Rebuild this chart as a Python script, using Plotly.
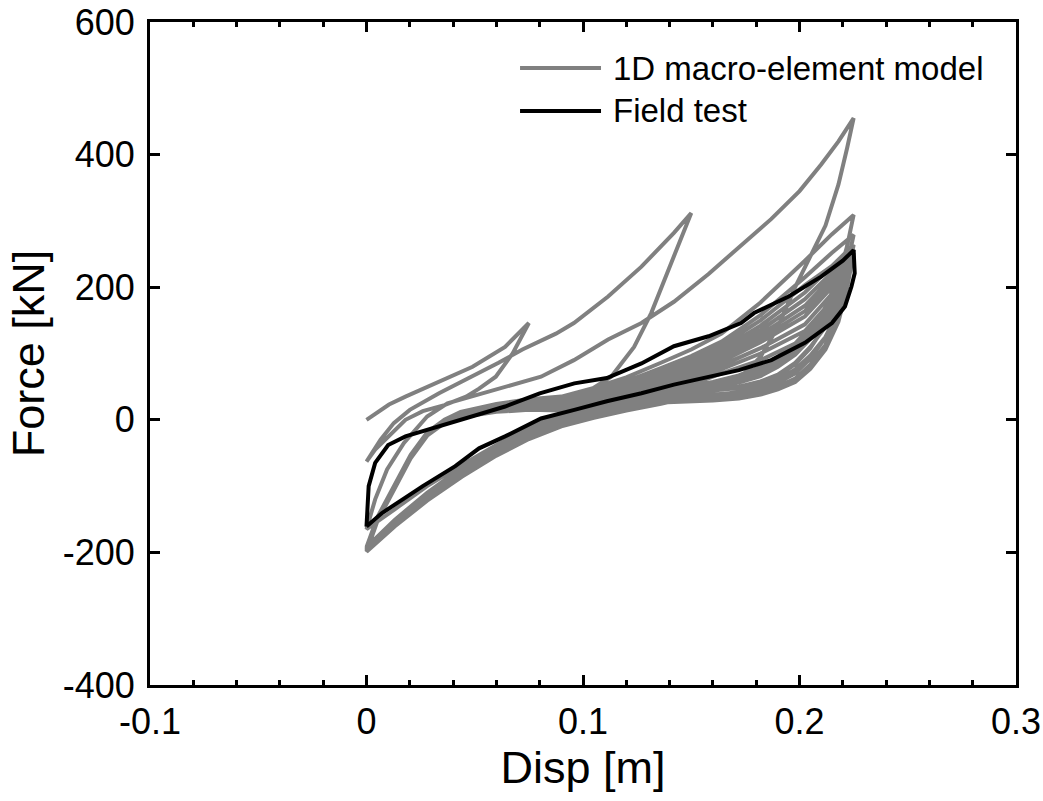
import plotly.graph_objects as go

# ---------------- data ----------------
# 1D macro-element model: successive loading / unloading branches
c1_load_d = [0.0, 0.0104, 0.018, 0.0335, 0.049, 0.064, 0.075]
c1_load_f = [0, 23, 35, 58, 80, 110, 146]
c1_unload_d = [0.075, 0.0675, 0.0597, 0.052, 0.046, 0.036, 0.026, 0.018, 0.0103, 0.004, 0.0]
c1_unload_f = [146, 100, 65, 47, 35, 22, 13, 0, -25, -45, -63]

c2_load_d = [0.0, 0.0065, 0.0126, 0.02, 0.0335, 0.049, 0.061, 0.072, 0.0806, 0.0875, 0.0958, 0.1116, 0.127, 0.142, 0.15]
c2_load_f = [-63, -30, -5, 15, 40, 65, 86, 106, 120, 130, 146, 186, 231, 282, 312]
c2_unload_d = [0.15, 0.1315, 0.1236, 0.113, 0.10, 0.09, 0.075, 0.06, 0.044, 0.028, 0.013, 0.0]
c2_unload_f = [312, 161, 110, 65, 38, 10, -12, -38, -68, -100, -135, -165]

c3_load_d = [0.0, 0.004, 0.0095, 0.0173, 0.028, 0.0374, 0.048, 0.065, 0.0806, 0.0958, 0.1116, 0.127, 0.142, 0.158, 0.173, 0.187, 0.2, 0.21, 0.218, 0.225]
c3_load_f = [-165, -120, -75, -35, 5, 25, 35, 50, 65, 90, 121, 146, 178, 220, 262, 303, 345, 385, 420, 455]

# later cycles share displacement stations
unload_d = [0.225, 0.222, 0.218, 0.212, 0.205, 0.198, 0.19, 0.182, 0.172, 0.16, 0.148, 0.136, 0.12, 0.105, 0.09, 0.075, 0.06, 0.044, 0.028, 0.013, 0.0]
reload_d = [0.0, 0.005, 0.0126, 0.0204, 0.028, 0.036, 0.0435, 0.06, 0.075, 0.09, 0.105, 0.12, 0.136, 0.15, 0.164, 0.182, 0.2025, 0.215, 0.225]

c3_unload_f = [455, 410, 355, 293, 245, 200, 140, 95, 62, 45, 33, 24, 14, 3, -10, -29, -54, -86, -122, -161, -197]
c4_load_f = [-197, -150, -104, -55, -20, 0, 12, 24, 31, 35, 48, 64, 86, 106, 130, 177, 240, 280, 309]
c4_unload_f = [309, 262, 215, 170, 132, 104, 82, 68, 58, 52, 48, 45, 36, 22, 8, -12, -38, -72, -110, -151, -192]
c5_load_f = [-192, -147, -101, -53, -19, 0, 11, 22, 28, 31, 43, 58, 78, 96, 118, 158, 215, 252, 279]
c5_unload_f = [279, 232, 186, 143, 108, 84, 66, 55, 48, 44, 42, 40, 31, 18, 4, -16, -42, -75, -113, -154, -194]
c6_load_f = [-194, -148, -102, -54, -20, -1, 9, 19, 24, 26, 38, 52, 70, 86, 106, 142, 192, 232, 264]
c6_unload_f = [264, 214, 166, 124, 92, 70, 56, 47, 41, 38, 36, 35, 26, 14, 1, -19, -45, -78, -116, -157, -196]
c7_load_f = [-196, -150, -103, -55, -21, -2, 7, 16, 20, 21, 32, 46, 62, 77, 96, 128, 172, 215, 257]
c7_unload_f = [257, 204, 154, 113, 83, 62, 50, 42, 36, 33, 32, 30, 22, 10, -2, -22, -48, -81, -119, -160, -198]
c8_load_f = [-198, -152, -105, -57, -23, -4, 5, 13, 16, 16, 27, 40, 55, 70, 88, 117, 156, 200, 252]
c8_unload_f = [252, 199, 148, 106, 77, 57, 46, 38, 32, 29, 28, 26, 18, 7, -5, -25, -51, -84, -121, -161, -199]
c9_load_f = [-199, -153, -106, -58, -24, -5, 4, 12, 15, 14, 23, 35, 50, 64, 82, 108, 144, 190, 250]
c9_unload_f = [250, 210, 165, 125, 97, 76, 60, 50, 42, 37, 34, 31, 22, 10, -3, -23, -49, -82, -119, -159, -197]
c10_load_f = [-197, -151, -104, -56, -22, -3, 6, 14, 17, 16, 20, 32, 46, 58, 77, 100, 134, 180, 249]
c10_unload_f = [249, 215, 175, 140, 110, 86, 68, 58, 50, 44, 40, 37, 28, 15, 1, -20, -46, -79, -117, -158, -196]
c11_load_f = [-196, -150, -103, -55, -21, -2, 8, 18, 23, 25, 37, 54, 74, 91, 112, 150, 203, 232, 248]
c11_unload_f = [248, 222, 190, 160, 132, 108, 88, 75, 63, 54, 48, 43, 33, 19, 5, -16, -43, -77, -115, -156, -195]
c12_load_f = [-195, -149, -102, -55, -21, -2, 8, 17, 22, 24, 35, 50, 66, 82, 101, 135, 182, 222, 248]
c12_unload_f = [248, 218, 182, 150, 122, 98, 80, 66, 56, 48, 43, 39, 30, 17, 3, -18, -44, -78, -116, -157, -196]
c13_load_f = [-196, -150, -103, -56, -22, -3, 7, 15, 19, 20, 31, 44, 58, 74, 92, 122, 164, 208, 247]
c13_unload_f = [247, 220, 186, 155, 127, 103, 84, 70, 59, 51, 45, 41, 32, 18, 4, -17, -44, -77, -116, -157, -196]
c14_load_f = [-196, -150, -103, -56, -22, -3, 6, 13, 16, 15, 22, 31, 42, 53, 70, 90, 122, 170, 247]
c14_unload_f = [247, 225, 196, 168, 140, 115, 95, 80, 67, 57, 50, 45, 35, 20, 6, -15, -42, -76, -114, -155, -194]

# Field test loop
field_up_d = [0.0, 0.001, 0.004, 0.010, 0.018, 0.033, 0.049, 0.064, 0.080, 0.096, 0.111, 0.127, 0.142, 0.158, 0.173, 0.179, 0.195, 0.210, 0.220, 0.225]
field_up_f = [-161, -100, -65, -38, -25, -10, 5, 20, 40, 55, 63, 85, 111, 126, 146, 161, 186, 216, 240, 256]
field_down_d = [0.2255, 0.224, 0.221, 0.215, 0.2025, 0.187, 0.172, 0.158, 0.142, 0.127, 0.111, 0.096, 0.0806, 0.064, 0.052, 0.041, 0.026, 0.007, 0.0]
field_down_f = [221, 201, 171, 146, 116, 90, 75, 65, 53, 40, 28, 15, 2, -25, -43, -70, -100, -141, -161]

x_tick_vals = [-0.1, 0.0, 0.1, 0.2, 0.3]
x_tick_text = ["-0.1", "0", "0.1", "0.2", "0.3"]
y_tick_vals = [-400, -200, 0, 200, 400, 600]
y_tick_text = ["-400", "-200", "0", "200", "400", "600"]

series_names = ["1D macro-element model", "Field test"]

# ---------------- assemble ----------------
late_cycles = [
    (c3_unload_f, c4_load_f), (c4_unload_f, c5_load_f), (c5_unload_f, c6_load_f),
    (c6_unload_f, c7_load_f), (c7_unload_f, c8_load_f), (c8_unload_f, c9_load_f),
    (c9_unload_f, c10_load_f), (c10_unload_f, c11_load_f), (c11_unload_f, c12_load_f),
    (c12_unload_f, c13_load_f), (c13_unload_f, c14_load_f),
]
model_d = c1_load_d + c1_unload_d + c2_load_d + c2_unload_d + c3_load_d
model_f = c1_load_f + c1_unload_f + c2_load_f + c2_unload_f + c3_load_f
for unload_f, reload_f in late_cycles:
    model_d = model_d + unload_d + reload_d
    model_f = model_f + unload_f + reload_f
model_d = model_d + unload_d
model_f = model_f + c14_unload_f

field_d = field_up_d + field_down_d
field_f = field_up_f + field_down_f

GRAY = "#808080"
FONT = "Arial, Liberation Sans, sans-serif"

fig = go.Figure()
fig.add_trace(go.Scatter(x=model_d, y=model_f, mode="lines", name=series_names[0],
                         line=dict(color=GRAY, width=4)))
fig.add_trace(go.Scatter(x=field_d, y=field_f, mode="lines", name=series_names[1],
                         line=dict(color="black", width=4)))

axis_common = dict(showline=True, linecolor="black", linewidth=3, mirror="ticks",
                   ticks="inside", ticklen=10, tickwidth=2.5, tickcolor="black",
                   showgrid=False, zeroline=False,
                   tickfont=dict(family=FONT, size=36, color="black"))

fig.update_xaxes(range=[-0.1, 0.3], tickvals=x_tick_vals, ticktext=x_tick_text,
                 minor=dict(dtick=0.02, tick0=0, ticks="inside", ticklen=5, tickwidth=2.5,
                            tickcolor="black", showgrid=False),
                 title=dict(text="Disp [m]", font=dict(family=FONT, size=45, color="black"), standoff=0),
                 ticklabelstandoff=3, **axis_common)
fig.update_yaxes(range=[-400, 600], tickvals=y_tick_vals, ticktext=y_tick_text,
                 title=dict(text="Force [kN]", font=dict(family=FONT, size=45, color="black"), standoff=4),
                 ticklabelstandoff=5, **axis_common)

# legend (drawn inside the axes, top right, no box)
leg_x0, leg_x1, leg_tx = 0.4273, 0.5208, 0.5323
leg_rows = [0.9306, 0.8658]
leg_colors = [GRAY, "black"]
for yy, col, name in zip(leg_rows, leg_colors, series_names):
    fig.add_shape(type="line", xref="paper", yref="paper", x0=leg_x0, x1=leg_x1, y0=yy, y1=yy,
                  line=dict(color=col, width=4))
    fig.add_annotation(xref="paper", yref="paper", x=leg_tx, y=yy, text=name, showarrow=False,
                       xanchor="left", yanchor="middle",
                       font=dict(family=FONT, size=33, color="black"))

fig.update_layout(width=1043, height=801, margin=dict(l=150, r=27, t=22, b=116, autoexpand=False),
                  plot_bgcolor="white", paper_bgcolor="white", showlegend=False,
                  font=dict(family=FONT, color="black"))

fig.write_html("out.html")
